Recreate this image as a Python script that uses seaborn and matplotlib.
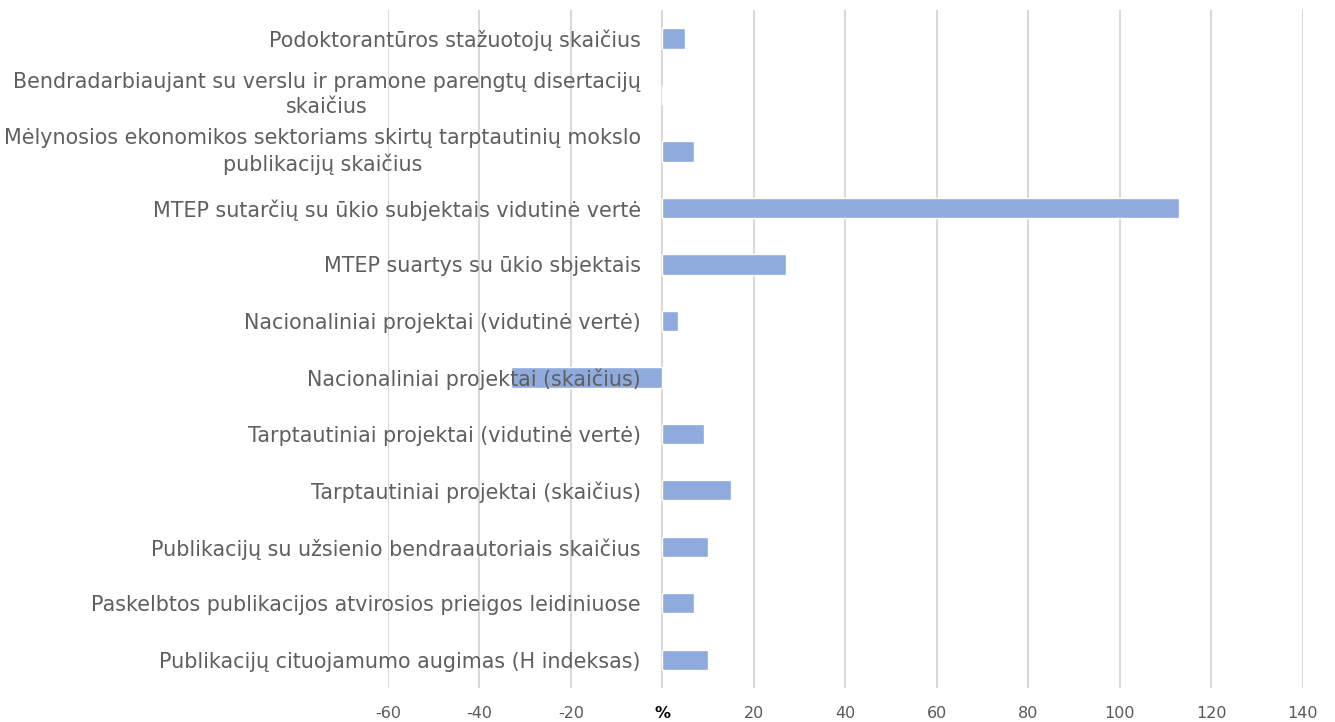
import matplotlib
matplotlib.use("Agg")
import matplotlib.pyplot as plt
import seaborn as sns
import pandas as pd

categories = [
    "Podoktorantūros stažuotojų skaičius",
    "Bendradarbiaujant su verslu ir pramone parengtų disertacijų\nskaičius",
    "Mėlynosios ekonomikos sektoriams skirtų tarptautinių mokslo\npublikacijų skaičius",
    "MTEP sutarčių su ūkio subjektais vidutinė vertė",
    "MTEP suartys su ūkio sbjektais",
    "Nacionaliniai projektai (vidutinė vertė)",
    "Nacionaliniai projektai (skaičius)",
    "Tarptautiniai projektai (vidutinė vertė)",
    "Tarptautiniai projektai (skaičius)",
    "Publikacijų su užsienio bendraautoriais skaičius",
    "Paskelbtos publikacijos atvirosios prieigos leidiniuose",
    "Publikacijų cituojamumo augimas (H indeksas)",
]
values = [5, 0, 7, 113, 27, 3.3, -33, 9, 15, 10, 7, 10]
xticks = [-60, -40, -20, 0, 20, 40, 60, 80, 100, 120, 140]
xtick_labels = ["-60", "-40", "-20", "%", "20", "40", "60", "80", "100", "120", "140"]

sns.set_theme(style="white")
plt.rcParams["font.family"] = ["DejaVu Sans"]

df = pd.DataFrame({"cat": categories, "val": values})

fig = plt.figure(figsize=(13.35, 7.22), dpi=100)
ax = fig.add_axes([0.2906, 0.047, 0.976 - 0.2906, 0.986 - 0.047])

sns.barplot(data=df, x="val", y="cat", orient="h", color="#8faadc",
            saturation=1, width=0.36, ax=ax, zorder=1)

ax.set_xlim(-60, 140)
ax.set_ylim(11.5, -0.5)
ax.set_xticks(xticks)
ax.set_xticklabels(xtick_labels)
for t in ax.get_xticklabels():
    t.set_fontsize(11.5)
    t.set_color("#595959")
    if t.get_text() == "%":
        t.set_fontweight("bold")
        t.set_color("#000000")

ax.grid(axis="x", color="#d9d9d9", linewidth=1.5)
ax.grid(axis="y", visible=False)
for s in ["top", "right", "bottom"]:
    ax.spines[s].set_visible(False)
ax.spines["left"].set_position(("data", 0))
ax.spines["left"].set_visible(False)

ax.tick_params(axis="y", length=0, pad=15.5)
ax.tick_params(axis="x", length=0, pad=13)
for t in ax.get_yticklabels():
    t.set_fontsize(14.9)
    t.set_color("#5f5f5f")
    t.set_ha("right")
    t.set_multialignment("center")
    t.set_linespacing(1.3)
    if "\n" in t.get_text():
        t.set_va("center")

ax.xaxis.set_zorder(0.5)
ax.yaxis.set_zorder(3)

ax.set_xlabel("")
ax.set_ylabel("")

fig.savefig("out.png", dpi=100)
